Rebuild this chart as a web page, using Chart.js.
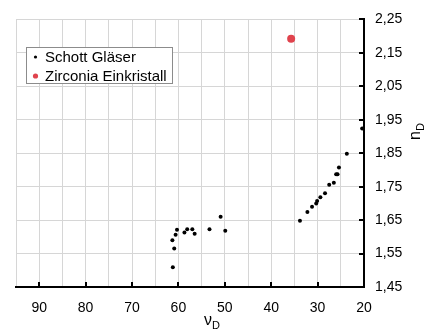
<!DOCTYPE html>
<html>
<head>
<meta charset="utf-8">
<script src="https://cdn.jsdelivr.net/npm/chart.js@4.4.1/dist/chart.umd.min.js"></script>
<style>
  body { margin: 0; background: #fff; }
  canvas { display: block; }
</style>
</head>
<body>
<canvas id="chart" width="435" height="329"></canvas>
<script>
// Abbe number (vD) vs refractive index (nD)
const seriesNames = ['Schott Gläser', 'Zirconia Einkristall'];

const schottAbbe = [61.2, 60.9, 61.3, 60.6, 60.3, 58.7, 58.1, 57.0, 56.5, 53.3, 50.9, 49.9,
  33.8, 32.2, 31.2, 30.3, 30.1, 29.4, 28.4, 27.5, 26.5, 26.0, 25.7, 25.4, 23.7, 20.4];
const schottIndex = [1.509, 1.565, 1.590, 1.606, 1.621, 1.613, 1.623, 1.623, 1.609, 1.623, 1.660, 1.618,
  1.648, 1.674, 1.690, 1.700, 1.707, 1.718, 1.730, 1.756, 1.762, 1.787, 1.787, 1.807, 1.848, 1.924];

const zirconiaAbbe = [35.7];
const zirconiaIndex = [2.192];

const xRange = [20, 95];
const yRange = [1.45, 2.25];

const FONT = "'Liberation Sans', Arial, Helvetica, sans-serif";

function toPoints(xs, ys) {
  return xs.map((x, i) => ({ x: x, y: ys[i] }));
}

// inward tick marks on the black axes
const innerTicks = {
  id: 'innerTicks',
  afterDraw(chart) {
    const ctx = chart.ctx;
    const xs = chart.scales.x, ys = chart.scales.y;
    const a = chart.chartArea;
    ctx.save();
    ctx.strokeStyle = '#000';
    ctx.lineWidth = 2;
    xs.ticks.forEach(t => {
      if (t.value % 10 !== 0) return;
      const px = Math.round(xs.getPixelForValue(t.value));
      ctx.beginPath();
      ctx.moveTo(px, a.bottom);
      ctx.lineTo(px, a.bottom - 5);
      ctx.stroke();
    });
    ys.ticks.forEach(t => {
      const py = Math.round(ys.getPixelForValue(t.value));
      ctx.beginPath();
      ctx.moveTo(a.right, py);
      ctx.lineTo(a.right - 5, py);
      ctx.stroke();
    });
    ctx.restore();
  }
};

// axis titles with subscripts
const axisTitles = {
  id: 'axisTitles',
  afterDraw(chart) {
    const ctx = chart.ctx;
    ctx.save();
    ctx.fillStyle = '#000';
    ctx.textBaseline = 'alphabetic';
    // x title: vD
    ctx.font = '16px ' + FONT;
    ctx.fillText('ν', 204, 325);
    ctx.font = '11px ' + FONT;
    ctx.fillText('D', 212, 329);
    // y title: nD, reading bottom to top
    ctx.translate(420, 140);
    ctx.rotate(-Math.PI / 2);
    ctx.font = '16px ' + FONT;
    ctx.fillText('n', 0, 0);
    ctx.font = '11px ' + FONT;
    ctx.fillText('D', 9, 4);
    ctx.restore();
  }
};

// boxed legend inside the plot
const boxLegend = {
  id: 'boxLegend',
  afterDraw(chart) {
    const ctx = chart.ctx;
    ctx.save();
    ctx.fillStyle = '#fff';
    ctx.fillRect(26.5, 47.5, 146, 36);
    ctx.strokeStyle = '#8c8c8c';
    ctx.lineWidth = 1;
    ctx.strokeRect(26.5, 47.5, 146, 36);
    ctx.font = '15px ' + FONT;
    ctx.textBaseline = 'middle';
    const rows = [57, 76];
    chart.data.datasets.forEach((ds, i) => {
      ctx.fillStyle = ds.backgroundColor;
      ctx.beginPath();
      ctx.arc(35.5, rows[i], i === 0 ? 1.6 : 2.6, 0, Math.PI * 2);
      ctx.fill();
      ctx.fillStyle = '#000';
      ctx.fillText(ds.label, 45, rows[i] + 1);
    });
    ctx.restore();
  }
};

new Chart(document.getElementById('chart'), {
  type: 'scatter',
  data: {
    datasets: [
      {
        label: seriesNames[0],
        data: toPoints(schottAbbe, schottIndex),
        backgroundColor: '#000',
        borderColor: '#000',
        pointRadius: 2,
        borderWidth: 0
      },
      {
        label: seriesNames[1],
        data: toPoints(zirconiaAbbe, zirconiaIndex),
        backgroundColor: '#e0434d',
        borderColor: '#e0434d',
        pointRadius: 4,
        borderWidth: 0
      }
    ]
  },
  options: {
    responsive: false,
    animation: false,
    layout: { padding: { left: 16, top: 16, right: 0, bottom: 0 } },
    plugins: {
      legend: { display: false },
      tooltip: { enabled: false }
    },
    scales: {
      x: {
        type: 'linear',
        position: 'bottom',
        reverse: true,
        min: xRange[0],
        max: xRange[1],
        afterFit(scale) { scale.height = 42; },
        grid: { color: '#d6d6d6', lineWidth: 1, drawTicks: false },
        border: { color: '#000', width: 2 },
        ticks: {
          stepSize: 5,
          autoSkip: false,
          maxRotation: 0,
          padding: 13,
          color: '#000',
          font: { family: FONT, size: 14 },
          callback: v => (v % 10 === 0 ? String(v) : '')
        }
      },
      y: {
        type: 'linear',
        position: 'right',
        min: yRange[0],
        max: yRange[1],
        afterFit(scale) { scale.width = 71; },
        grid: { color: '#d6d6d6', lineWidth: 1, drawTicks: false },
        border: { color: '#000', width: 2 },
        ticks: {
          stepSize: 0.1,
          padding: 11,
          color: '#000',
          font: { family: FONT, size: 14 },
          callback: v => v.toFixed(2).replace('.', ',')
        }
      }
    }
  },
  plugins: [innerTicks, axisTitles, boxLegend]
});
</script>
</body>
</html>
